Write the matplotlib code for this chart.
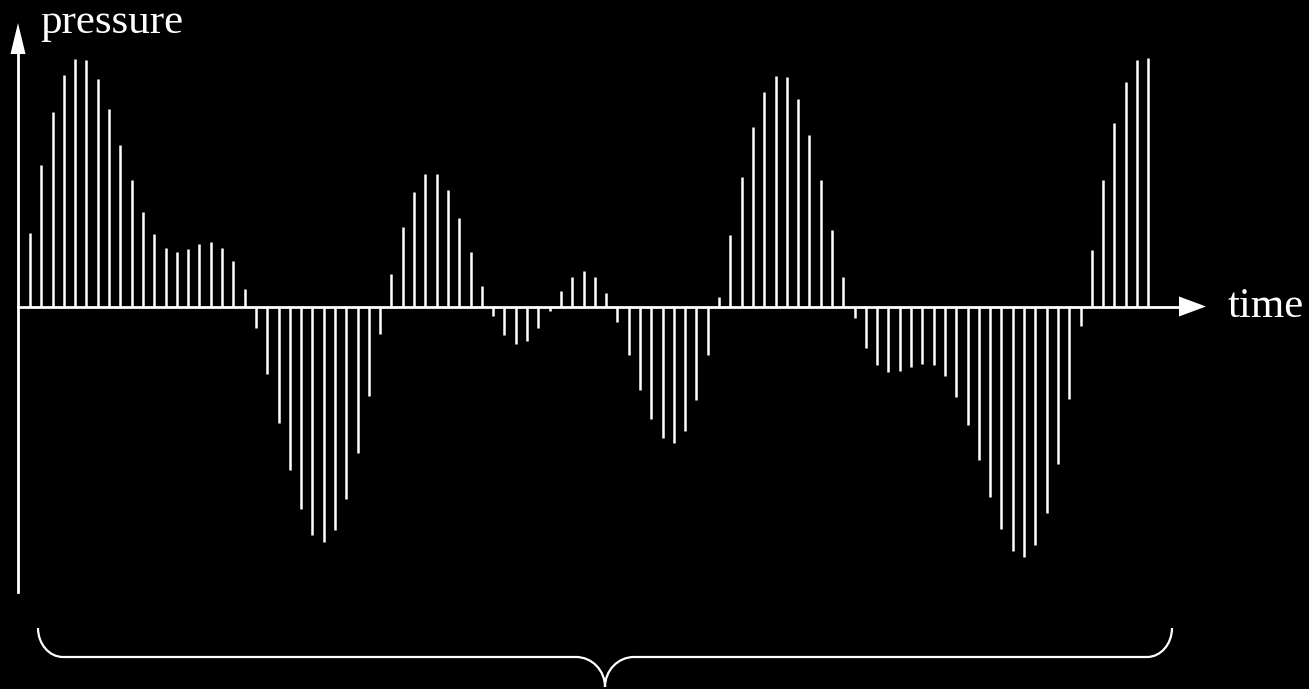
import numpy as np
import matplotlib
matplotlib.use("Agg")
import matplotlib.pyplot as plt
from matplotlib.path import Path
from matplotlib.patches import PathPatch, Polygon

# pressure samples (arbitrary units), one per time step
pressure = [74, 142, 195, 232, 248, 247, 228, 198, 162, 127,
            95, 73, 59, 55, 58, 63, 65, 59, 46, 18,
            -21, -67, -116, -163, -202, -228, -235, -223, -192, -146,
            -89, -27, 33, 80, 115, 133, 133, 117, 89, 55,
            21, -9, -28, -37, -34, -21, -4, 16, 30, 36,
            30, 14, -15, -48, -83, -112, -131, -136, -124, -93,
            -48, 10, 72, 130, 180, 215, 231, 230, 208, 172,
            127, 77, 30, -11, -41, -58, -65, -64, -60, -57,
            -58, -69, -90, -118, -153, -190, -222, -244, -250, -238,
            -206, -157, -92, -19, 57, 127, 184, 225, 247, 249]
samples = np.arange(1, len(pressure) + 1)

W, H = 1309, 689
fig = plt.figure(figsize=(W / 100, H / 100), dpi=100, facecolor="black")
ax = fig.add_axes([0, 0, 1, 1])
ax.set_facecolor("black")
ax.axis("off")

# map sample index / pressure onto the canvas
step_px = 11.296
first_px = 30
zero_px = 306.5
ax.set_xlim(1 - first_px / step_px, 1 + (W - first_px) / step_px)
ax.set_ylim(-(H - zero_px), zero_px)

ax.vlines(samples, 0, pressure, colors="white", linewidth=1.8, capstyle="butt")


def px(x, y):
    # figure pixel (y down) -> figure fraction
    return (x / W, 1 - y / H)


tf = fig.transFigure
lw_axis = 2.0

# vertical (pressure) axis with arrow
fig.add_artist(plt.Line2D([18 / W, 18 / W], [px(0, 592)[1], px(0, 50)[1]],
                          transform=tf, color="white", linewidth=lw_axis))
fig.add_artist(Polygon([px(18, 23), px(10.5, 54), px(25.5, 54)], closed=True,
                       transform=tf, facecolor="white", edgecolor="none"))

# horizontal (time) axis with arrow
fig.add_artist(plt.Line2D([18 / W, 1182 / W], [px(0, zero_px)[1]] * 2,
                          transform=tf, color="white", linewidth=lw_axis))
fig.add_artist(Polygon([px(1206, zero_px), px(1179, zero_px - 10), px(1179, zero_px + 10)],
                       closed=True, transform=tf, facecolor="white", edgecolor="none"))

fig.text(40 / W, px(0, 33)[1], "pressure", color="white", fontsize=31,
         family="Liberation Serif", ha="left", va="baseline")
fig.text(1228 / W, px(0, 316.5)[1], "time", color="white", fontsize=31,
         family="Liberation Serif", ha="left", va="baseline")

# curly brace under the whole signal
k = 0.5523
yt, yl, yb = 628, 657, 687
xl, xr, xm = 38, 1172, 605
rx, cx = 25, 29
verts = [
    (xl, yt),
    (xl, yt + k * (yl - yt)), (xl + rx - k * rx, yl), (xl + rx, yl),
    (xm - cx, yl),
    (xm - cx + k * cx, yl), (xm, yb - k * (yb - yl)), (xm, yb),
    (xm, yb - k * (yb - yl)), (xm + cx - k * cx, yl), (xm + cx, yl),
    (xr - rx, yl),
    (xr - rx + k * rx, yl), (xr, yt + k * (yl - yt)), (xr, yt),
]
codes = [Path.MOVETO,
         Path.CURVE4, Path.CURVE4, Path.CURVE4,
         Path.LINETO,
         Path.CURVE4, Path.CURVE4, Path.CURVE4,
         Path.CURVE4, Path.CURVE4, Path.CURVE4,
         Path.LINETO,
         Path.CURVE4, Path.CURVE4, Path.CURVE4]
brace = Path([px(x, y) for x, y in verts], codes)
fig.add_artist(PathPatch(brace, transform=tf, facecolor="none",
                         edgecolor="white", linewidth=1.6))

fig.savefig("out.png", dpi=100, facecolor="black")
